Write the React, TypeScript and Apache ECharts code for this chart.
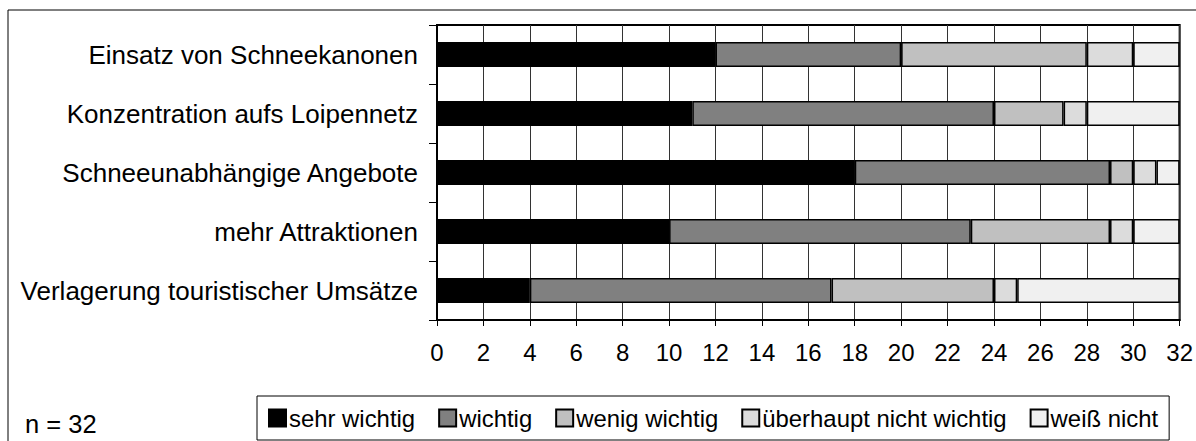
import React, { useEffect, useRef } from "react";
import * as echarts from "echarts";

const categories = [
  "Einsatz von Schneekanonen",
  "Konzentration aufs Loipennetz",
  "Schneeunabhängige Angebote",
  "mehr Attraktionen",
  "Verlagerung touristischer Umsätze",
];
const seriesNames = ["sehr wichtig", "wichtig", "wenig wichtig", "überhaupt nicht wichtig", "weiß nicht"];
const sehrWichtig = [12, 11, 18, 10, 4];
const wichtig = [8, 13, 11, 13, 13];
const wenigWichtig = [8, 3, 1, 6, 7];
const ueberhauptNicht = [2, 1, 1, 1, 1];
const weissNicht = [2, 4, 1, 2, 7];
const xTicks = [0, 32, 2];
const note = "n = 32";

const colors = ["#000000", "#808080", "#c0c0c0", "#dcdcdc", "#f0f0f0"];
const FONT = "Liberation Sans, Arial, sans-serif";

export default function App() {
  const ref = useRef<HTMLDivElement>(null);
  useEffect(() => {
    const chart = echarts.init(ref.current!, null, { renderer: "svg" });
    const data = [sehrWichtig, wichtig, wenigWichtig, ueberhauptNicht, weissNicht];
    chart.setOption({
      animation: false,
      textStyle: { fontFamily: FONT },
      grid: { left: 437, right: 16, top: 25, bottom: 121, show: true, borderColor: "#000", borderWidth: 2, backgroundColor: "#fff" },
      xAxis: {
        type: "value",
        min: xTicks[0],
        max: xTicks[1],
        interval: xTicks[2],
        axisLine: { show: true, lineStyle: { color: "#000", width: 2 } },
        axisTick: { show: true, length: 6, lineStyle: { color: "#000" } },
        axisLabel: { color: "#000", fontSize: 24, margin: 20, fontFamily: FONT },
        splitLine: { show: true, lineStyle: { color: "#333", width: 1 } },
      },
      yAxis: {
        type: "category",
        data: categories,
        inverse: true,
        axisLine: { show: true, lineStyle: { color: "#000", width: 2 } },
        axisTick: { show: true, length: 8, lineStyle: { color: "#000" } },
        axisLabel: { color: "#000", fontSize: 26, margin: 19, fontFamily: FONT },
      },
      legend: {
        left: 257,
        top: 396,
        width: 907,
        height: 38,
        padding: [10, 11, 10, 11],
        borderColor: "#000",
        borderWidth: 1,
        itemWidth: 17,
        itemHeight: 17,
        itemGap: 23,
        icon: "rect",
        textStyle: { color: "#000", fontSize: 23.9, padding: [0, 0, 0, -2], fontFamily: FONT },
        data: seriesNames,
      },
      graphic: [
        { type: "rect", shape: { x: 8, y: 10, width: 1400, height: 600 }, style: { fill: "none", stroke: "#000", lineWidth: 1 }, silent: true, z: -10 },
        { type: "text", left: 25, top: 411, style: { text: note, fontSize: 25.5, fill: "#000", fontFamily: FONT } },
      ],
      series: seriesNames.map((name, i) => ({
        name,
        type: "bar",
        stack: "total",
        barWidth: 25,
        data: data[i],
        itemStyle: { color: colors[i], borderColor: "#000", borderWidth: 1.5 },
      })),
    });
    return () => chart.dispose();
  }, []);
  return <div ref={ref} style={{ position: "absolute", left: 0, top: 0, width: 1196, height: 441 }} />;
}
